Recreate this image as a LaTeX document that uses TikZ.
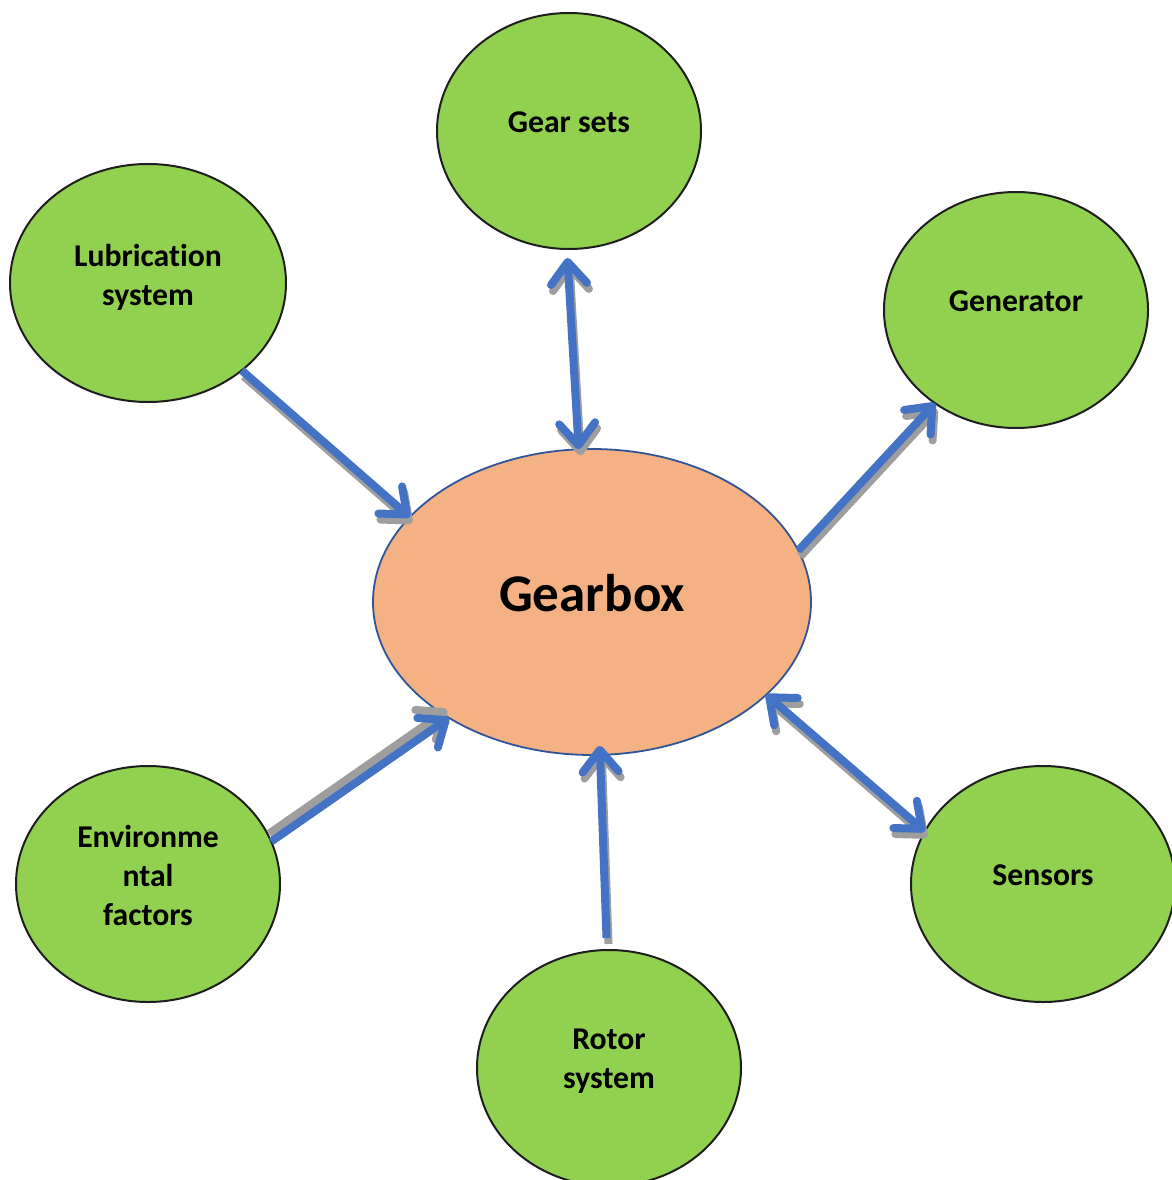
\documentclass[tikz,border=0pt]{standalone}
\usepackage{fontspec}
\setmainfont{Carlito}[Ligatures=NoCommon]
\usetikzlibrary{shapes.geometric,arrows.meta}
\definecolor{leaf}{HTML}{92D050}
\definecolor{rim}{HTML}{1E1E1E}
\definecolor{peach}{HTML}{F4B183}
\definecolor{peachrim}{HTML}{2F5597}
\definecolor{linkblue}{HTML}{4472C4}
\definecolor{shadegray}{HTML}{9E9E9E}
\begin{document}
\begin{tikzpicture}[x=1pt,y=-1pt,
  bubble/.style={ellipse,draw=rim,line width=2pt,fill=leaf,
    minimum width=264pt,minimum height=236pt,inner sep=0pt,outer sep=0pt},
  hub/.style={ellipse,draw=peachrim,line width=1.8pt,fill=peach,
    minimum width=438pt,minimum height=306pt,inner sep=0pt,outer sep=0pt},
  tag/.style={align=center,inner sep=0pt,
    font=\fontsize{31.7}{39}\selectfont\bfseries},
  headline/.style={inner sep=0pt,font=\fontsize{53}{60}\selectfont\bfseries},
  barb/.tip={Straight Barb[length=22pt,width=36pt,round]},
  link/.style={line width=8pt,line cap=butt},
  oneway/.style={link,-barb},
  twoway/.style={link,barb-barb},
]
\useasboundingbox (0,0) rectangle (1171,1180);

% outer components and the central gearbox
\node[bubble] (gear) at (569,131) {};
\node[bubble,minimum width=276pt,minimum height=238pt] (lub) at (148,283) {};
\node[bubble] (gen) at (1016,310) {};
\node[bubble] (env) at (148,884) {};
\node[bubble] (rot) at (609,1068) {};
\node[bubble] (sen) at (1043,884) {};
\node[hub] (box) at (592,602) {};

% drop shadows of the connectors
\begin{scope}[draw=shadegray]
  \begin{scope}[transform canvas={shift={(2pt,-6pt)}}]
    \draw[oneway] (lub.-43.4) -- (box.155.8);
    \draw[twoway,shorten <=9pt] (gear.-91) -- (box.95.9);
    \draw[oneway] (box.14.6) -- (gen.-131.9);
    \draw[oneway,shorten <=12pt,shorten >=-9pt] (rot.91.8) -- (box.-87.6);
    \draw[twoway] (box.-28.6) -- (sen.156.1);
  \end{scope}
  \begin{scope}[transform canvas={shift={(-2pt,8pt)}}]
    \draw[oneway] (env.19.5) -- (box.-141);
  \end{scope}
\end{scope}

% connectors
\begin{scope}[draw=linkblue]
  \draw[oneway] (lub.-43.4) -- (box.155.8);
  \draw[twoway,shorten <=9pt] (gear.-91) -- (box.95.9);
  \draw[oneway] (box.14.6) -- (gen.-131.9);
  \draw[oneway] (env.19.5) -- (box.-141);
  \draw[oneway,shorten <=12pt,shorten >=-9pt] (rot.91.8) -- (box.-87.6);
  \draw[twoway] (box.-28.6) -- (sen.156.1);
\end{scope}

% labels
\node[tag] (gear-t) at (569,122) {Gear sets};
\node[tag] (lub-t) at (148,277) {Lubrication\\system};
\node[tag] (gen-t) at (1016,301) {Generator};
\node[tag] (env-t) at (148,875) {Environme\\ntal\\factors};
\node[tag] (rot-t) at (609,1061.5) {Rotor\\system};
\node[tag] (sen-t) at (1043,875) {Sensors};
\node[headline] (box-t) at (592,593) {Gearbox};
\end{tikzpicture}
\end{document}
